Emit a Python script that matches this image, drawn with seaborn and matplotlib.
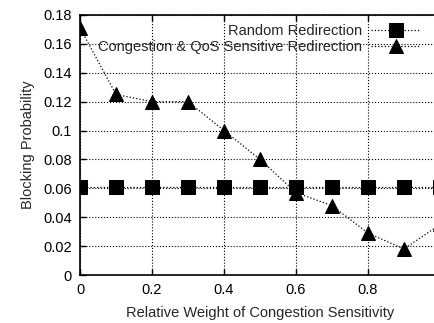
import numpy as np
import pandas as pd
import matplotlib
matplotlib.use("Agg")
import matplotlib.pyplot as plt
import seaborn as sns

sns.set_style("ticks")
plt.rcParams['font.family'] = ['Liberation Sans', 'DejaVu Sans']

weights = [0.0, 0.1, 0.2, 0.3, 0.4, 0.5, 0.6, 0.7, 0.8, 0.9, 1.0]
random_redir = [0.061, 0.061, 0.061, 0.061, 0.061, 0.061, 0.061, 0.061, 0.061, 0.061, 0.061]
cqos_redir = [0.171, 0.125, 0.120, 0.120, 0.100, 0.080, 0.057, 0.048, 0.029, 0.018, 0.035]
labels = ['Random Redirection', 'Congestion & QoS Sensitive Redirection']

df = pd.DataFrame({
    'w': weights * 2,
    'p': random_redir + cqos_redir,
    'series': [labels[0]] * len(weights) + [labels[1]] * len(weights),
})

fig = plt.figure(figsize=(4.35, 3.23), dpi=100)
ax = fig.add_axes([0.184, 0.1486, 0.8276, 0.805])

sns.lineplot(data=df, x='w', y='p', hue='series', style='series',
             palette=['black', 'black'], markers=['s', '^'], dashes=False,
             linewidth=0.9, markersize=10, markeredgecolor='black',
             ax=ax)
for line in ax.lines:
    line.set_linestyle(':')

ax.set_xlim(0, 1.0)
ax.set_ylim(0, 0.18)
ax.set_xticks([0, 0.2, 0.4, 0.6, 0.8])
ax.set_xticklabels(['0', '0.2', '0.4', '0.6', '0.8'])
ax.set_yticks(np.arange(0, 0.181, 0.02))
ax.set_yticklabels(['0', '0.02', '0.04', '0.06', '0.08', '0.1', '0.12', '0.14', '0.16', '0.18'])
ax.grid(True, color='black', linestyle=':', linewidth=0.8)
ax.tick_params(direction='in', top=True, right=True, labelsize=10.5, length=4, width=1,
               colors='black', pad=6)
for s in ax.spines.values():
    s.set_linewidth(1.2)
    s.set_color('black')

ax.set_xlabel('Relative Weight of Congestion Sensitivity', fontsize=10.5, labelpad=6)
ax.set_ylabel('Blocking Probability', fontsize=10.5, labelpad=6)

handles, lbls = ax.get_legend_handles_labels()
for h in handles:
    h.set_linestyle(':')
leg = ax.legend(handles, lbls, loc='upper right', bbox_to_anchor=(0.97, 1.0),
                markerfirst=False, frameon=False, fontsize=10.5, handlelength=3.4,
                borderaxespad=0.2, labelspacing=0.15, handletextpad=0.6)

fig.savefig('out.png', dpi=100)
